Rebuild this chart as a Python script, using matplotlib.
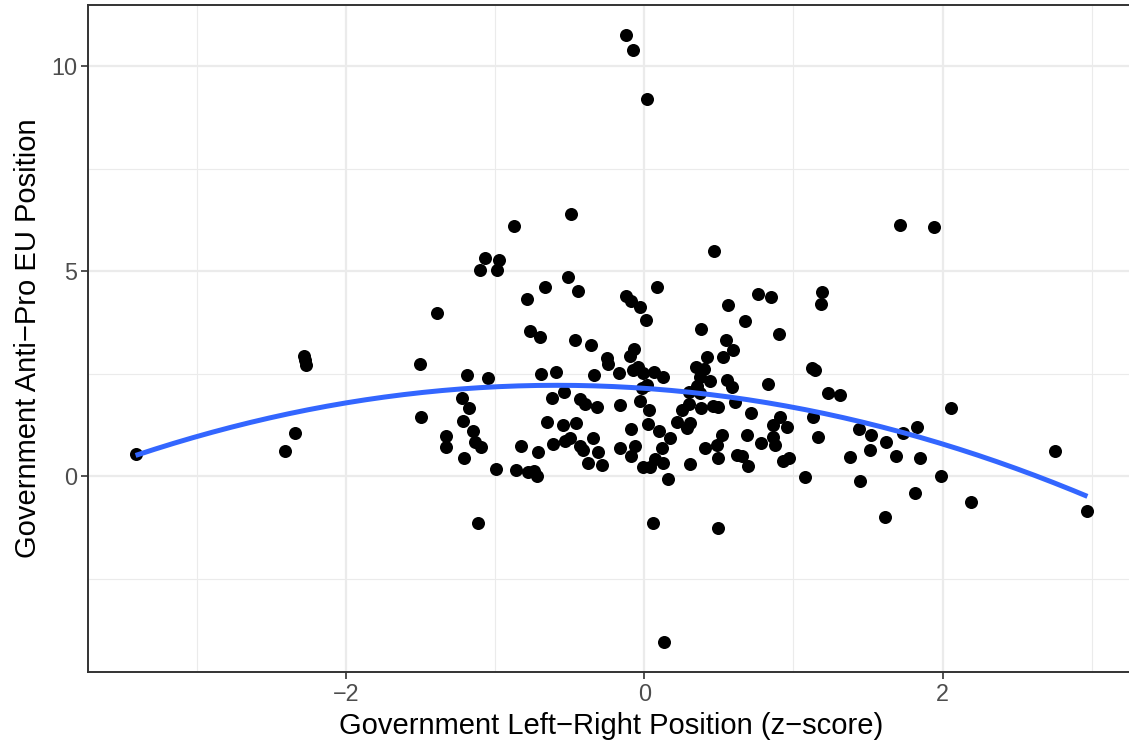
import numpy as np
import matplotlib
matplotlib.use("Agg")
import matplotlib.pyplot as plt

plt.rcParams['font.family'] = ['Liberation Sans', 'DejaVu Sans']

# Government left-right position (z-score)
lr_position = [
    -3.414, -2.409, -2.342, -2.281, -2.275, -2.268, -1.504, -1.497, -1.390, -1.330,
    -1.330, -1.223, -1.176, -1.216, -1.149, -1.136, -1.095, -1.209, -1.189, -1.049,
    -1.116, -1.069, -0.975, -1.102, -0.988, -0.874, -0.492, -0.513, -0.667, -0.446,
    -0.787, -0.767, -0.700, -0.466, -0.358, -0.995, -0.861, -0.781, -0.740, -0.720,
    -0.827, -0.714, -0.613, -0.533, -0.499, -0.432, -0.412, -0.345, -0.312, -0.379,
    -0.285, -0.693, -0.593, -0.338, -0.653, -0.546, -0.459, -0.620, -0.539, -0.432,
    -0.399, -0.318, -0.124, -0.090, -0.030, 0.010, 0.084, -0.070, -0.097, -0.251,
    -0.245, -0.171, -0.077, -0.044, -0.010, 0.064, 0.124, -0.164, -0.090, 0.023,
    0.030, -0.030, -0.017, 0.017, -0.164, -0.064, -0.090, -0.010, 0.037, 0.070,
    0.057, -0.124, -0.077, 0.017, 0.131, 0.559, 0.379, 0.546, 0.593, 0.526,
    0.419, 0.345, 0.399, 0.372, 0.439, 0.553, 0.586, 0.352, 0.298, 0.372,
    0.097, 0.171, 0.117, 0.251, 0.218, 0.305, 0.285, 0.379, 0.459, 0.492,
    0.124, 0.305, 0.405, 0.486, 0.519, 0.492, 0.620, 0.157, 0.466, 0.760,
    0.848, 0.673, 0.901, 1.189, 1.183, 1.122, 1.142, 1.229, 1.310, 0.827,
    1.129, 1.162, 1.437, 1.518, 1.618, 1.511, 1.377, 1.444, 1.611, 1.075,
    0.908, 0.861, 0.955, 0.861, 0.874, 0.781, 0.714, 0.687, 0.653, 0.693,
    0.928, 0.968, 0.606, 0.298, 0.492, 2.054, 1.732, 1.826, 1.685, 1.846,
    1.993, 1.812, 2.188, 1.712, 1.940, 2.757, 2.972,
]

# Government anti/pro EU position
eu_position = [
    0.535, 0.608, 1.046, 2.920, 2.822, 2.701, 2.725, 1.436, 3.990, 0.973,
    0.706, 1.898, 1.655, 1.338, 1.095, 0.827, 0.706, 0.438, 2.457, 2.384,
    -1.144, 5.328, 5.280, 5.036, 5.036, 6.107, 6.399, 4.866, 4.623, 4.526,
    4.331, 3.552, 3.382, 3.309, 3.187, 0.170, 0.146, 0.097, 0.122, 0.000,
    0.730, 0.584, 0.779, 0.852, 0.925, 0.730, 0.633, 0.925, 0.584, 0.316,
    0.268, 2.482, 2.530, 2.457, 1.314, 1.241, 1.290, 1.898, 2.044, 1.873,
    1.752, 1.679, 4.404, 4.282, 4.136, 3.820, 4.623, 3.090, 2.920, 2.871,
    2.725, 2.506, 2.579, 2.652, 2.506, 2.530, 2.409, 1.727, 1.144, 1.265,
    1.606, 1.825, 2.141, 2.214, 0.681, 0.730, 0.487, 0.219, 0.219, 0.414,
    -1.144, 10.754, 10.389, 9.197, -4.039, 4.185, 3.601, 3.333, 3.066, 2.895,
    2.895, 2.652, 2.603, 2.409, 2.311, 2.336, 2.165, 2.190, 2.044, 2.019,
    1.095, 0.925, 0.681, 1.606, 1.314, 1.290, 1.168, 1.655, 1.703, 1.679,
    0.316, 0.292, 0.681, 0.754, 0.998, 0.438, 0.511, -0.073, 5.499, 4.453,
    4.380, 3.796, 3.479, 4.501, 4.209, 2.628, 2.579, 2.019, 1.971, 2.238,
    1.436, 0.949, 1.144, 0.998, 0.827, 0.633, 0.462, -0.122, -0.998, -0.024,
    1.436, 1.241, 1.192, 0.949, 0.754, 0.803, 1.533, 0.998, 0.487, 0.243,
    0.365, 0.438, 1.800, 1.752, -1.265, 1.655, 1.046, 1.192, 0.487, 0.438,
    0.000, -0.414, -0.633, 6.131, 6.083, 0.608, -0.852,
]

# quadratic smooth as it appears on the chart (a*x^2 + b*x + c)
smooth_coef = [-0.214, -0.251, 2.142]

x = np.array(lr_position)
y = np.array(eu_position)

xs = np.linspace(x.min(), x.max(), 200)
ys = np.polyval(smooth_coef, xs)

fig = plt.figure(figsize=(11.29, 7.44), dpi=100)
ax = fig.add_axes([88 / 1129, 1 - 672 / 744, 1047 / 1129, 667 / 744])

ax.scatter(x, y, s=88, color='black', linewidths=0, zorder=3)
ax.plot(xs, ys, color='#3366FF', lw=3.6, zorder=4, solid_capstyle='butt')

ax.margins(x=0.05, y=0.05)

ax.set_xticks([-2, 0, 2])
ax.set_xticks([-3, -1, 1, 3], minor=True)
ax.set_yticks([0, 5, 10])
ax.set_yticks([-2.5, 2.5, 7.5], minor=True)
ax.set_xticklabels(['\u22122', '0', '2'])
ax.set_yticklabels(['0', '5', '10'])

ax.grid(which='major', color='#EBEBEB', lw=1.6, zorder=0)
ax.grid(which='minor', color='#EBEBEB', lw=0.8, zorder=0)
ax.set_axisbelow(True)
ax.tick_params(which='major', length=5, width=1.2, color='#333333',
               labelsize=16.8, labelcolor='#4D4D4D', pad=3)
ax.tick_params(which='minor', length=0)
for sp in ax.spines.values():
    sp.set_color('#333333')
    sp.set_linewidth(1.4)

ax.set_xlabel('Government Left\u2212Right Position (z\u2212score)', fontsize=21,
              color='black', labelpad=4)
ax.set_ylabel('Government Anti\u2212Pro EU Position', fontsize=21,
              color='black', labelpad=6)

fig.savefig('out.png', dpi=100)
